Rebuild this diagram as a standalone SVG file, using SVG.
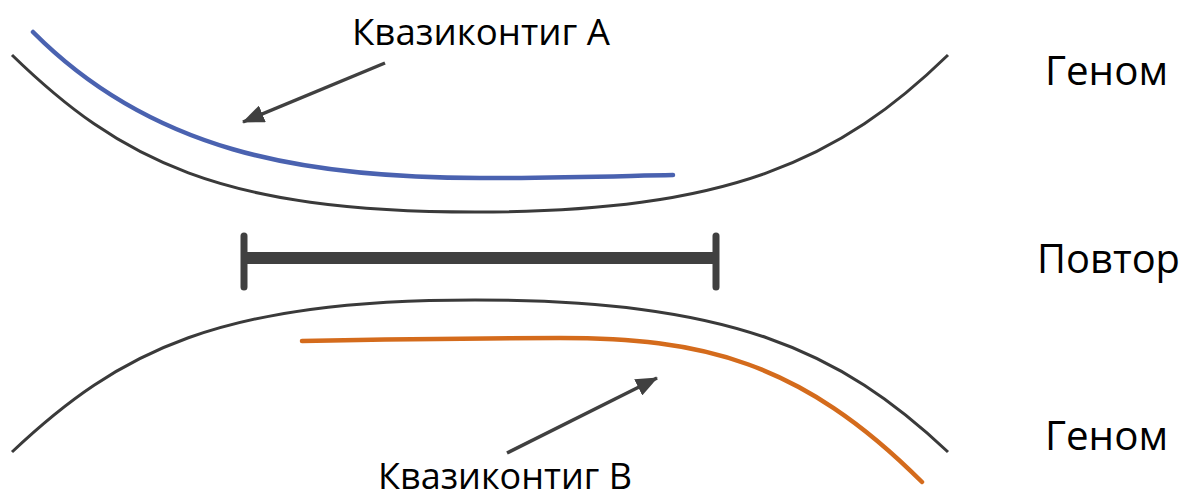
<svg xmlns="http://www.w3.org/2000/svg" width="1185" height="494" viewBox="0 0 1185 494">
  <style>
    .genome { fill: none; stroke: #3a3a3a; stroke-width: 3; }
    .contig { fill: none; stroke-width: 4.5; stroke-linecap: round; }
    .pointer { stroke: #404040; stroke-width: 3.5; fill: none; }
    .label { font-family: "Open Sans", "Noto Sans", sans-serif; fill: #000; }
  </style>
  <defs>
    <marker id="head" viewBox="0 0 22 18" refX="21" refY="9" markerWidth="22" markerHeight="18" markerUnits="userSpaceOnUse" orient="auto">
      <path d="M0,0 L22,9 L0,18 z" fill="#404040"/>
    </marker>
  </defs>
  <rect width="1185" height="494" fill="#fff"/>

  <g id="genome-top">
    <path class="genome" d="M12,55 C120,160 220,212 475,212 C730,212 840,160 948,55"/>
  </g>
  <g id="genome-bottom">
    <path class="genome" d="M12,452 C120,350 220,300 475,300 C730,300 840,350 948,452"/>
  </g>
  <g id="contig-a">
    <path class="contig" stroke="#4a62b0" d="M33,32 C150,150 300,178 480,178 C560,178 620,176 673,175"/>
  </g>
  <g id="contig-b">
    <path class="contig" stroke="#d46b1c" d="M302,341 C400,339 500,338 560,338 C700,338 800,360 922,482"/>
  </g>
  <g id="repeat">
    <line x1="244" y1="258" x2="716" y2="258" stroke="#404040" stroke-width="12"/>
    <line x1="244" y1="236" x2="244" y2="287" stroke="#404040" stroke-width="7" stroke-linecap="round"/>
    <line x1="716" y1="236" x2="716" y2="287" stroke="#404040" stroke-width="7" stroke-linecap="round"/>
  </g>

  <g id="connectors">
    <line class="pointer" x1="385" y1="63" x2="243" y2="122" marker-end="url(#head)"/>
    <line class="pointer" x1="507" y1="453" x2="657" y2="378" marker-end="url(#head)"/>
  </g>

  <g id="labels">
    <text class="label" x="352" y="45" font-size="36" textLength="258" lengthAdjust="spacingAndGlyphs">Квазиконтиг А</text>
    <text class="label" x="378" y="489" font-size="36" textLength="254" lengthAdjust="spacingAndGlyphs">Квазиконтиг В</text>
    <text class="label" x="1045" y="85" font-size="41" textLength="123" lengthAdjust="spacingAndGlyphs">Геном</text>
    <text class="label" x="1037" y="273" font-size="41" textLength="143" lengthAdjust="spacingAndGlyphs">Повтор</text>
    <text class="label" x="1045" y="450" font-size="41" textLength="123" lengthAdjust="spacingAndGlyphs">Геном</text>
  </g>
</svg>
